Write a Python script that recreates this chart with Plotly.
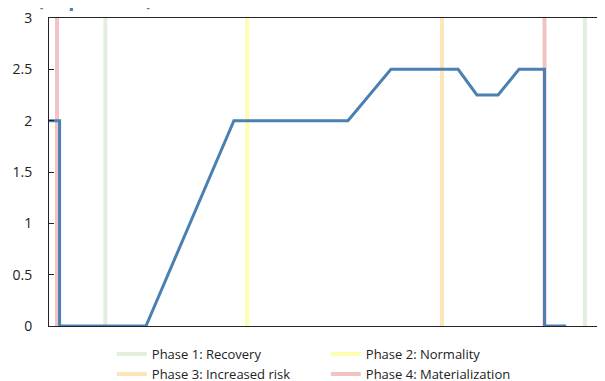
import plotly.graph_objects as go

# Time steps (quarters, estimated) and buffer rate (in percent)
period = [0.0, 0.49, 0.49, 4.49, 8.56, 13.84, 15.83, 18.94, 19.81, 20.79, 21.76, 22.94, 22.94, 23.94]
rate = [2.0, 2.0, 0.0, 0.0, 2.0, 2.0, 2.5, 2.5, 2.25, 2.25, 2.5, 2.5, 0.0, 0.0]

# Phase change markers
phase_names = ["Phase 1: Recovery", "Phase 2: Normality", "Phase 3: Increased risk", "Phase 4: Materialization"]
phase_colors = ["#e3eedb", "#fdfdb4", "#fce6b8", "#f2c3c3"]
phase_starts = [[2.61, 24.81], [9.17], [18.19], [0.37, 22.94]]

x_range = [0, 25.74]
y_range = [0, 3]

fig = go.Figure()

for name, color, starts in zip(phase_names, phase_colors, phase_starts):
    for i, s in enumerate(starts):
        fig.add_trace(go.Scatter(
            x=[s, s], y=y_range, mode="lines",
            line=dict(color=color, width=4),
            name=name, legendgroup=name, showlegend=(i == 0),
            hoverinfo="skip",
        ))

fig.add_trace(go.Scatter(
    x=period, y=rate, mode="lines",
    line=dict(color="#4a80b2", width=3),
    showlegend=False, name="Rate",
))

fig.add_annotation(
    text="<b>(in percent)</b>", xref="paper", yref="paper",
    x=-0.0244, y=1.013, xanchor="left", yanchor="bottom",
    showarrow=False, font=dict(size=20, color="#3f7fc0", family="Open Sans"),
)

fig.update_layout(
    width=605, height=381,
    margin=dict(l=41, r=8, t=10, b=63, autoexpand=False),
    paper_bgcolor="white", plot_bgcolor="white",
    font=dict(family="Open Sans", size=14, color="#222222"),
    xaxis=dict(range=x_range, showgrid=False, zeroline=False, showticklabels=False,
               ticks="", showline=True, linecolor="#222222", linewidth=1, mirror=True,
               automargin=False),
    yaxis=dict(range=y_range, dtick=0.5, showgrid=False, zeroline=False,
               ticks="inside", ticklen=5, tickcolor="#222222",
               showline=True, linecolor="#222222", linewidth=1, automargin=False,
               ticklabeloverflow="allow",
               ticklabelstandoff=13, tickfont=dict(size=14, color="#222222")),
    legend=dict(orientation="h", x=0.113, y=0.131, xref="paper", yref="container",
                xanchor="left", yanchor="top",
                entrywidth=169, font=dict(size=13, color="#222222"),
                bgcolor="rgba(0,0,0,0)", tracegroupgap=0),
    showlegend=True,
)

fig.write_html("out.html")
